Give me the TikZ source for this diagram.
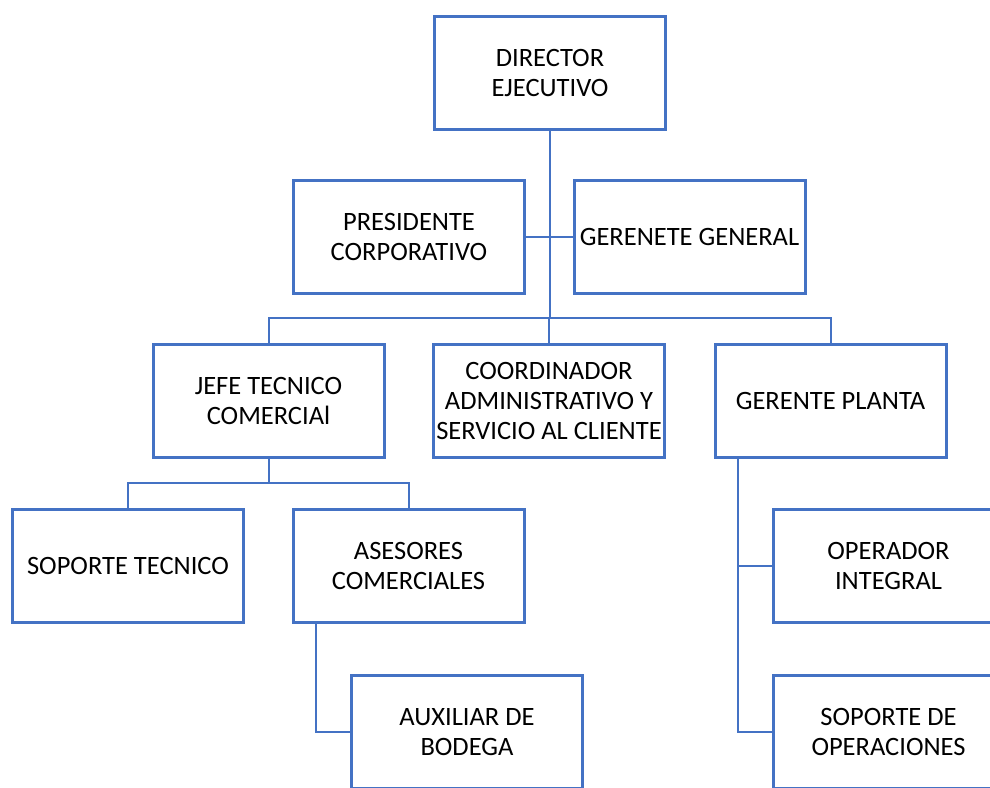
\documentclass[tikz,border=0pt]{standalone}
\usepackage{fontspec}
\setmainfont{Carlito}
\usetikzlibrary{backgrounds}
\definecolor{orgblue}{RGB}{68,114,196}
\begin{document}
\begin{tikzpicture}[x=1pt,y=-1pt,
  unit/.style={draw=orgblue, line width=3pt, fill=white, rectangle,
    minimum width=231pt, minimum height=113pt, inner sep=0pt, align=center,
    font=\fontsize{26.5}{30}\selectfont},
  link/.style={draw=orgblue, line width=2pt}]
  \useasboundingbox (0,0) rectangle (990,787);
  \clip (0,0) rectangle (990,787);

  % tap points of the connector lines
  \coordinate (bus) at (549,318);
  \coordinate (jbus) at (268,483);
  \coordinate (asetap) at (316,0);
  \coordinate (gptap) at (738,0);

  % boxes
  \node[unit] (dir)   at (550,73)    {DIRECTOR\\EJECUTIVO};
  \node[unit] (pres)  at (409,236.5) {PRESIDENTE\\CORPORATIVO};
  \node[unit] (gg)    at (689.5,236.5) {GERENETE GENERAL};
  \node[unit] (jefe)  at (268.5,401) {JEFE TECNICO\\COMERCIAl};
  \node[unit] (coord) at (549,401)   {COORDINADOR\\ADMINISTRATIVO Y\\SERVICIO AL CLIENTE};
  \node[unit] (gp)    at (830.5,401) {GERENTE PLANTA};
  \node[unit] (st)    at (128,566)   {SOPORTE TECNICO};
  \node[unit] (ase)   at (408.5,566) {ASESORES\\COMERCIALES};
  \node[unit] (oper)  at (888.5,566) {OPERADOR\\INTEGRAL};
  \node[unit] (aux)   at (467,732)   {AUXILIAR DE\\BODEGA};
  \node[unit] (sops)  at (888.5,732) {SOPORTE DE\\OPERACIONES};

  % connectors
  \begin{pgfonlayer}{background}
    \draw[link] (dir.south) -- (dir.south |- bus);
    \draw[link] (pres.east) -- (gg.west);
    \draw[link] (jefe.north) |- (gp.north |- bus) -- (gp.north);
    \draw[link] (coord.north) -- (coord.north |- bus);
    \draw[link] (jefe.south) -- (jefe.south |- jbus);
    \draw[link] (st.north) |- (ase.north |- jbus) -- (ase.north);
    \draw[link] (ase.south -| asetap) |- (aux.west);
    \draw[link] (gp.south -| gptap) |- (oper.west);
    \draw[link] (gp.south -| gptap) |- (sops.west);
  \end{pgfonlayer}
\end{tikzpicture}
\end{document}
